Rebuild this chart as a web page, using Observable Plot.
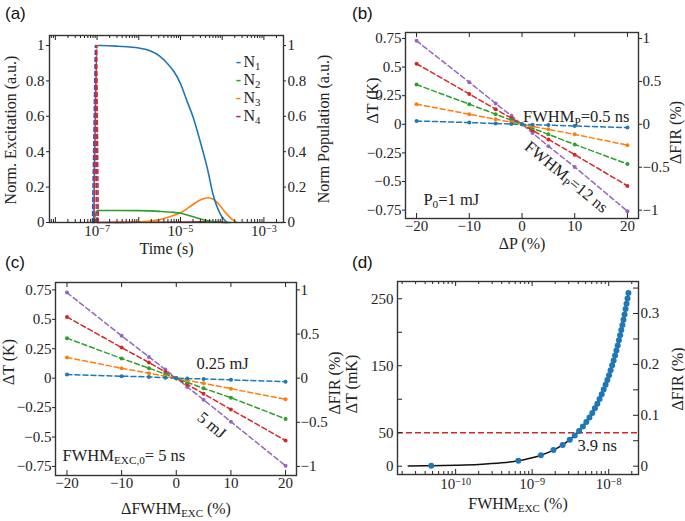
<!DOCTYPE html>
<html><head><meta charset="utf-8">
<script src="https://cdn.jsdelivr.net/npm/d3@7"></script>
<script src="https://cdn.jsdelivr.net/npm/@observablehq/plot@0.6"></script>
<style>
html,body{margin:0;padding:0;background:#fff;}
#fig{position:relative;width:685px;height:521px;overflow:hidden;background:#fff;}
#fig svg{position:absolute;overflow:visible;max-width:none;font-family:"Liberation Serif","Times New Roman",serif;}
#fig svg text{font-family:"Liberation Serif","Times New Roman",serif;}
#fig svg g[aria-label$="tick label"]{font-size:15px;}
.plab{position:absolute;font-family:"Liberation Sans",Arial,sans-serif;font-size:17px;color:#111;line-height:1;}
</style></head><body>
<div id="fig"></div>
<script>
// ================= DATA =================
const SERIES_COLORS = ["#1f77b4", "#ff7f0e", "#2ca02c", "#d62728", "#9467bd"]; // blue, orange, green, red, purple

// ---- (a) populations vs time (log10 of time in s) ----
const aN1LogT = [-7.08,-6.99,-6.9,-6.5,-6.0,-5.73,-5.5,-5.32,-5.15,-5.0,-4.85,-4.69,-4.53,-4.36,-4.22,-4.05,-3.95,-3.88];
const aN1     = [0,1.0,1.0,0.996,0.986,0.97,0.94,0.90,0.85,0.785,0.69,0.59,0.46,0.31,0.16,0.05,0.015,0];
const aN2LogT = [-7.08,-6.99,-6.5,-6.0,-5.5,-5.2,-5.0,-4.8,-4.6,-4.4,-4.2,-4.0,-3.8];
const aN2     = [0,0.068,0.068,0.067,0.063,0.058,0.052,0.04,0.025,0.012,0.004,0.001,0];
const aN3LogT = [-6.6,-6.0,-5.6,-5.3,-5.0,-4.8,-4.65,-4.5,-4.34,-4.2,-4.05,-3.9,-3.75,-3.65];
const aN3     = [0,0.003,0.012,0.03,0.055,0.085,0.11,0.13,0.14,0.13,0.095,0.05,0.015,0];
const aN4LogT = [-7.0,-6.0,-5.0,-4.5,-4.2,-3.9];
const aN4     = [0,0.001,0.002,0.004,0.003,0];
const aExc1LogT = [-7.11,-7.04,-7.0];
const aExc1     = [0,1,0];
const aExc2LogT = [-7.06,-7.01,-6.97];
const aExc2     = [0,1,0];
const aLegend = ["N_{1}","N_{2}","N_{3}","N_{4}"];
const aLegendColors = ["#1f77b4","#2ca02c","#ff7f0e","#b0233b"];
const aYTicks = [0,0.2,0.4,0.6,0.8,1];
const aXLabelTicks = [1e-7,1e-5,1e-3];

// ---- (b) ΔT vs ΔP ----
const bcX = [-20,-10,-5,-2,0,2,5,10,20];
const bPurple = [0.729,0.368,0.182,0.074,0,-0.076,-0.191,-0.373,-0.759];
const bRed    = [0.529,0.265,0.132,0.053,0,-0.053,-0.132,-0.265,-0.538];
const bGreen  = [0.347,0.176,0.088,0.035,0,-0.035,-0.088,-0.176,-0.347];
const bOrange = [0.176,0.088,0.044,0.018,0,-0.018,-0.044,-0.088,-0.182];
const bBlue   = [0.029,0.015,0.007,0.003,0,-0.003,-0.007,-0.015,-0.029];

// ---- (c) ΔT vs ΔFWHM_EXC ----
const cPurple = [0.727,0.36,0.181,0.073,0,-0.074,-0.183,-0.37,-0.745];
const cRed    = [0.52,0.26,0.133,0.053,0,-0.053,-0.133,-0.266,-0.53];
const cGreen  = [0.34,0.167,0.085,0.034,0,-0.035,-0.086,-0.166,-0.346];
const cOrange = [0.176,0.085,0.042,0.017,0,-0.018,-0.044,-0.089,-0.18];
const cBlue   = [0.031,0.017,0.011,0.004,0,-0.003,-0.006,-0.014,-0.03];

const bcXTicks = [-20,-10,0,10,20];
const bcYTicks = [-0.75,-0.5,-0.25,0,0.25,0.5,0.75];
const bcFirTicks = [-1,-0.5,0,0.5,1];
const bcKelvinPerFir = 0.75; // ΔT (K) aligned with 1 % ΔFIR

// ---- (d) ΔT (mK) vs FWHM_EXC (ns) ----
const dDotNs = [0.048,0.66,1.3,1.9,2.5,3.1,3.6,4.1,4.6,5.1,5.6,6.1,6.6,7.1,7.6,8.1,8.6,9.1,9.6,10.1,10.6,11.1,11.6,12.1,12.6,13.1,13.6,14.1,14.6,15.1,15.6,16.1,16.6,17.1,17.6,18.1];
const dDotMK = [0.6,8.2,16.3,24.0,31.7,39.5,46.0,52.7,59.3,66.0,72.8,79.6,86.5,93.4,100.3,107.4,114.4,121.6,128.7,135.9,143.2,150.6,157.9,165.4,172.8,180.4,188.0,195.6,203.3,211.0,218.8,226.7,234.6,242.5,250.5,258.5];
const dCurveNs = [0.024,0.048,0.1,0.2,0.4,0.66,1.3,1.9,2.5,3.6,5.1,7.1,10.1,13.1,16.1,18.1];
const dCurveMK = [0.3,0.6,1.3,2.5,5.0,8.2,16.3,24.0,31.7,46.0,66.0,93.4,135.9,180.4,226.7,258.5];
const dThreshold = 50;
const dLeftTicks = [0,50,100,150,200,250];
const dLeftLabels = [0,50,150,250];
const dFirTicks = [0,0.05,0.1,0.15,0.2,0.25,0.3,0.35];
const dFirLabels = [0,0.1,0.2,0.3];
const dMKPerFir = 760; // ΔT (mK) aligned with 1 % ΔFIR
const dXLabelTicks = [1e-10,1e-9,1e-8];

// ================= HELPERS =================
const SERIF = '"Liberation Serif","Times New Roman",serif';
const INK = "#222";
const fig = document.getElementById("fig");

function rich(svg) {
  const NS = "http://www.w3.org/2000/svg";
  svg.querySelectorAll("text").forEach(t => {
    if (t.children.length) return;
    const s = t.textContent;
    if (!/[\^_]\{/.test(s)) return;
    t.textContent = "";
    const re = /([\^_])\{([^}]*)\}/g;
    let last = 0, m;
    const add = (str, shift) => {
      const ts = document.createElementNS(NS, "tspan");
      ts.textContent = str;
      if (shift) { ts.setAttribute("baseline-shift", shift === "super" ? "40%" : "-25%"); ts.setAttribute("font-size", "68%"); }
      t.appendChild(ts);
    };
    while ((m = re.exec(s))) {
      if (m.index > last) add(s.slice(last, m.index));
      add(m[2], m[1] === "^" ? "super" : "sub");
      last = re.lastIndex;
    }
    if (last < s.length) add(s.slice(last));
  });
}
function place(svg, left, top) {
  svg.style.left = left + "px";
  svg.style.top = top + "px";
  rich(svg);
  fig.appendChild(svg);
}
function logTicks(lo, hi) {
  const major = [], minor = [];
  for (let e = Math.floor(Math.log10(lo)) - 1; e <= Math.ceil(Math.log10(hi)); e++) {
    const p = Number("1e" + e);
    if (p >= lo && p <= hi) major.push(p);
    for (let k = 2; k <= 9; k++) { const v = k * p; if (v >= lo && v <= hi) minor.push(v); }
  }
  return {major, minor};
}
const minus = v => (v < 0 ? "\u2212" : "") + String(Math.abs(+v.toFixed(3)));
const pow10 = v => "10^{\u2212" + Math.round(-Math.log10(v)) + "}";
function xTicksIn(values, fh, len) {
  return [
    Plot.tickX(values, {x: d => d, insetTop: fh - len, stroke: INK, strokeWidth: 1}),
    Plot.tickX(values, {x: d => d, insetBottom: fh - len, stroke: INK, strokeWidth: 1})
  ];
}
function yTickIn(values, fw, len, side) {
  return Plot.tickY(values, side === "left"
    ? {y: d => d, insetRight: fw - len, stroke: INK, strokeWidth: 1}
    : {y: d => d, insetLeft: fw - len, stroke: INK, strokeWidth: 1});
}
const style = {fontFamily: SERIF, fontSize: "15px", color: INK, background: "transparent", overflow: "visible"};
const ax = o => ({label: null, fontSize: 15, fontFamily: SERIF, fill: INK, ...o});
const title = (txt, o) => Plot.text([txt], {text: d => d, fill: INK, fontSize: 16, fontFamily: SERIF, textAnchor: "middle", lineAnchor: "middle", ...o});
const frame = () => Plot.frame({stroke: "#333", strokeWidth: 1.4});

// ================= PANEL (a) =================
(function () {
  const W = 342, H = 260, mL = 49, mR = 59, mT = 35, mB = 38;
  const fw = W - mL - mR, fh = H - mT - mB;
  const xDom = [7.24e-9, 2.95e-3];
  const {major, minor} = logTicks(xDom[0], xDom[1]);
  const toRows = (lt, v) => lt.map((e, i) => ({t: Math.pow(10, e), v: v[i]}));
  const lines = [
    {rows: toRows(aN4LogT, aN4), stroke: "#b0233b", dash: null, curve: "monotone-x"},
    {rows: toRows(aN3LogT, aN3), stroke: SERIES_COLORS[1], dash: null, curve: "monotone-x"},
    {rows: toRows(aN2LogT, aN2), stroke: SERIES_COLORS[2], dash: null, curve: "monotone-x"},
    {rows: toRows(aN1LogT, aN1), stroke: SERIES_COLORS[0], dash: null, curve: "monotone-x"},
    {rows: toRows(aExc1LogT, aExc1), stroke: "#5b4a9e", dash: "4,3", curve: "linear"},
    {rows: toRows(aExc2LogT, aExc2), stroke: "#e0262f", dash: "4,3", curve: "linear"}
  ];
  const marks = [
    ...lines.map(l => Plot.line(l.rows, {x: "t", y: "v", stroke: l.stroke, strokeWidth: 1.6, strokeDasharray: l.dash, curve: l.curve})),
    ...xTicksIn(major, fh, 5), ...xTicksIn(minor, fh, 3),
    Plot.axisX(aXLabelTicks, ax({anchor: "bottom", tickSize: 0, tickPadding: 3, tickFormat: pow10})),
    Plot.axisY(aYTicks, ax({anchor: "left", tickSize: 3, tickPadding: 2, tickFormat: minus})),
    Plot.axisY(aYTicks, ax({anchor: "right", tickSize: 2, tickPadding: 2, tickFormat: minus})),
    frame(),
    title("Norm. Excitation (a.u.)", {frameAnchor: "left", rotate: -90, dx: -39, dy: 1}),
    title("Norm Population (a.u.)", {frameAnchor: "right", rotate: -90, dx: 40, dy: 0}),
    title("Time (s)", {frameAnchor: "bottom", dy: 26}),
    ...aLegend.flatMap((lab, i) => [
      Plot.text(["-"], {text: d => d, frameAnchor: "top-left", textAnchor: "middle", lineAnchor: "middle", dx: 189, dy: 26 + i * 18, fill: aLegendColors[i], fontSize: 16, fontWeight: "bold", fontFamily: SERIF}),
      Plot.text([lab], {text: d => d, frameAnchor: "top-left", textAnchor: "start", lineAnchor: "middle", dx: 194, dy: 26 + i * 18, fill: INK, fontSize: 16, fontFamily: SERIF})
    ])
  ];
  place(Plot.plot({width: W, height: H, marginLeft: mL, marginRight: mR, marginTop: mT, marginBottom: mB,
    x: {type: "log", domain: xDom}, y: {domain: [0, 1.0565]}, style, marks}), 0, 0);
})();

// ================= PANELS (b), (c) =================
function sweepPanel(cfg) {
  const {W, H, mL, mR, mT, mB, xDom, yDom, series, texts, xTitle, left, top, titleOff} = cfg;
  const fw = W - mL - mR, fh = H - mT - mB;
  const order = [4, 3, 2, 1, 0];
  const marks = [];
  order.forEach(k => {
    const rows = bcX.map((x, i) => ({x, y: series[k][i]}));
    marks.push(Plot.line(rows, {x: "x", y: "y", stroke: SERIES_COLORS[k], strokeWidth: 1.5, strokeDasharray: "5,3"}));
    marks.push(Plot.dot(rows, {x: "x", y: "y", fill: SERIES_COLORS[k], r: 2}));
  });
  marks.push(
    ...xTicksIn(bcXTicks, fh, 5),
    Plot.axisX(bcXTicks, ax({anchor: "bottom", tickSize: 0, tickPadding: 2, tickFormat: minus})),
    Plot.axisY(bcYTicks, ax({anchor: "left", tickSize: 3, tickPadding: 1, tickFormat: minus})),
    Plot.axisY(bcFirTicks.map(f => f * bcKelvinPerFir), ax({anchor: "right", tickSize: 3, tickPadding: 1, tickFormat: v => minus(v / bcKelvinPerFir)})),
    frame(),
    title("\u0394T (K)", {frameAnchor: "left", rotate: -90, dx: titleOff.lx, dy: titleOff.ly}),
    title("\u0394FIR (%)", {frameAnchor: "right", rotate: -90, dx: titleOff.rx, dy: titleOff.ry}),
    title(xTitle, {frameAnchor: "bottom", dy: titleOff.by}),
    ...texts.map(t => Plot.text([t.s], {text: d => d, x: () => t.x, y: () => t.y, rotate: t.rot || 0, textAnchor: t.anchor || "middle", lineAnchor: "middle", fill: INK, fontSize: 16.5, fontFamily: SERIF}))
  );
  place(Plot.plot({width: W, height: H, marginLeft: mL, marginRight: mR, marginTop: mT, marginBottom: mB,
    x: {domain: xDom}, y: {domain: yDom}, style, marks}), left, top);
}

sweepPanel({
  W: 345, H: 260, mL: 65, mR: 47, mT: 32, mB: 42, left: 340, top: 0,
  xDom: [-22.1, 22.1], yDom: [-0.823, 0.802],
  series: [bBlue, bOrange, bGreen, bRed, bPurple],
  xTitle: "\u0394P (%)",
  titleOff: {lx: -33, ly: -25, rx: 37, ry: 7, by: 25},
  texts: [
    {s: "FWHM_{P}=0.5 ns", x: 0.2, y: 0.07, anchor: "start"},
    {s: "FWHM_{P}=12 ns", x: 8.4, y: -0.46, rot: 39.5},
    {s: "P_{0}=1 mJ", x: -18.7, y: -0.66, anchor: "start"}
  ]
});

sweepPanel({
  W: 342, H: 266, mL: 55, mR: 46, mT: 27, mB: 46, left: 0, top: 255,
  xDom: [-22.1, 22.0], yDom: [-0.827, 0.813],
  series: [cBlue, cOrange, cGreen, cRed, cPurple],
  xTitle: "\u0394FWHM_{EXC} (%)",
  titleOff: {lx: -47, ly: -17, rx: 38, ry: 4, by: 33},
  texts: [
    {s: "0.25 mJ", x: 3.7, y: 0.125, anchor: "start"},
    {s: "5 mJ", x: 6.5, y: -0.40, rot: 40},
    {s: "FWHM_{EXC,0}= 5 ns", x: -20.8, y: -0.656, anchor: "start"}
  ]
});

// ================= PANEL (d) =================
(function () {
  const W = 345, H = 266, mL = 57, mR = 47, mT = 26, mB = 47;
  const fw = W - mL - mR, fh = H - mT - mB;
  const xDom = [1.74e-11, 2.45e-8];
  const {major, minor} = logTicks(xDom[0], xDom[1]);
  const dots = dDotNs.map((x, i) => ({x: x * 1e-9, y: dDotMK[i]}));
  const curve = dCurveNs.map((x, i) => ({x: x * 1e-9, y: dCurveMK[i]}));
  const firT = dFirTicks.map(f => f * dMKPerFir);
  const marks = [
    Plot.ruleY([dThreshold], {stroke: "#d62728", strokeWidth: 1.5, strokeDasharray: "6,3"}),
    Plot.line(curve, {x: "x", y: "y", stroke: "#111", strokeWidth: 1.5, curve: "monotone-x"}),
    Plot.dot(dots, {x: "x", y: "y", fill: "#1f77b4", r: 3}),
    ...xTicksIn(major, fh, 5), ...xTicksIn(minor, fh, 3),
    yTickIn(dLeftTicks, fw, 5, "left"),
    yTickIn(firT, fw, 5, "right"),
    Plot.axisX(dXLabelTicks, ax({anchor: "bottom", tickSize: 0, tickPadding: 4, tickFormat: pow10})),
    Plot.axisY(dLeftLabels, ax({anchor: "left", tickSize: 0, tickPadding: 4, tickFormat: d => String(d)})),
    Plot.axisY(dFirLabels.map(f => f * dMKPerFir), ax({anchor: "right", tickSize: 0, tickPadding: 2, tickFormat: v => String(+(v / dMKPerFir).toFixed(2))})),
    frame(),
    title("\u0394T (mK)", {frameAnchor: "left", rotate: -90, dx: -46, dy: 6}),
    title("\u0394FIR (%)", {frameAnchor: "right", rotate: -90, dx: 39, dy: 1}),
    title("FWHM_{EXC} (%)", {frameAnchor: "bottom", dy: 29}),
    Plot.text(["3.9 ns"], {text: d => d, x: () => 3.9e-9, y: () => 31, textAnchor: "start", lineAnchor: "middle", fill: INK, fontSize: 16.5, fontFamily: SERIF})
  ];
  place(Plot.plot({width: W, height: H, marginLeft: mL, marginRight: mR, marginTop: mT, marginBottom: mB,
    x: {type: "log", domain: xDom}, y: {domain: [-12.4, 275.8]}, style, marks}), 340, 255);
})();

// ================= PANEL LETTERS =================
[["(a)", 5, 5], ["(b)", 352, 5], ["(c)", 5, 254], ["(d)", 352, 254]].forEach(([s, l, t]) => {
  const d = document.createElement("div");
  d.className = "plab"; d.textContent = s;
  d.style.left = l + "px"; d.style.top = t + "px";
  fig.appendChild(d);
});
</script></body></html>
